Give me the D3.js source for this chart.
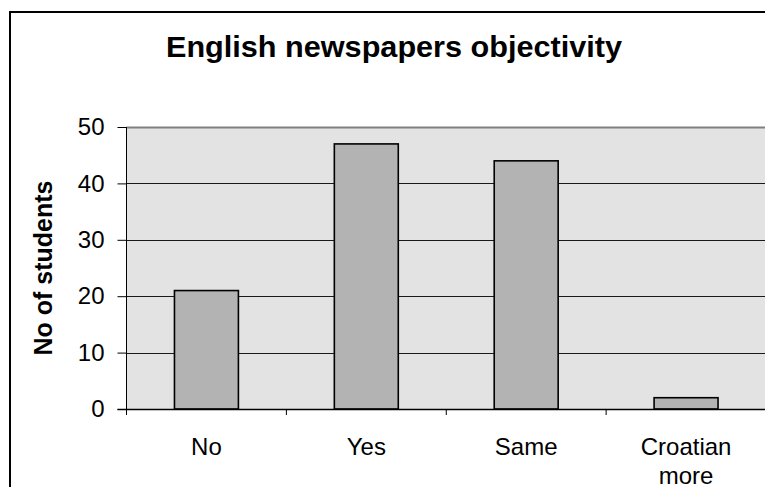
<!DOCTYPE html>
<html>
<head>
<meta charset="utf-8">
<script src="https://cdn.jsdelivr.net/npm/d3@7"></script>
<style>
html,body{margin:0;padding:0;background:#fff;}
svg{display:block;font-family:Arial,"Liberation Sans",sans-serif;}
</style>
</head>
<body>
<svg id="chart" width="765" height="487"></svg>
<script>
const categories = [["No"], ["Yes"], ["Same"], ["Croatian", "more"]];
const categoryKeys = ["No", "Yes", "Same", "Croatian more"];
const values = [21, 47, 44, 2];
const yTicks = [0, 10, 20, 30, 40, 50];
const title = "English newspapers objectivity";
const yLabel = "No of students";

const svg = d3.select("#chart");
const W = 765, H = 487;
const m = {left: 126.5, top: 127, right: 766, bottom: 409};

// outer frame
svg.append("rect").attr("x", 10).attr("y", 12).attr("width", 800).attr("height", 600)
  .attr("fill", "none").attr("stroke", "#000").attr("stroke-width", 2);

const x = d3.scaleBand().domain(categoryKeys).range([m.left, m.right]).paddingInner(0).paddingOuter(0);
const y = d3.scaleLinear().domain([0, 50]).range([m.bottom, m.top]);

// plot area
svg.append("rect").attr("x", m.left).attr("y", m.top).attr("width", m.right - m.left).attr("height", m.bottom - m.top)
  .attr("fill", "#e3e3e3");

// gridlines
svg.append("g").selectAll("line").data(yTicks.filter(d => d > 0)).join("line")
  .attr("x1", m.left).attr("x2", m.right)
  .attr("y1", d => Math.round(y(d)) + 0.5).attr("y2", d => Math.round(y(d)) + 0.5)
  .attr("stroke", d => d === 50 ? "#808080" : "#1a1a1a").attr("stroke-width", d => d === 50 ? 2 : 1);

// bars
const bw = x.bandwidth() * 0.4;
svg.append("g").selectAll("rect").data(values).join("rect")
  .attr("x", (d, i) => x(categoryKeys[i]) + (x.bandwidth() - bw) / 2)
  .attr("y", d => y(d))
  .attr("width", bw)
  .attr("height", d => y(0) - y(d))
  .attr("fill", "#b3b3b3").attr("stroke", "#000").attr("stroke-width", 1.6);

// y axis
const yAxis = d3.axisLeft(y).tickValues(yTicks).tickSize(9).tickPadding(13);
const gy = svg.append("g").attr("transform", `translate(${m.left},0)`).call(yAxis);
gy.select(".domain").attr("d", `M0,${m.top}V${m.bottom + 6}`).attr("stroke", "#000");
gy.selectAll(".tick line").attr("stroke", "#000");
gy.selectAll("text").attr("font-size", 24).attr("fill", "#000")
  .attr("font-family", "Arial,'Liberation Sans',sans-serif");

// x axis
const gx = svg.append("g").attr("transform", `translate(0,${m.bottom})`);
gx.append("line").attr("x1", m.left - 9).attr("x2", m.right).attr("y1", 0.5).attr("y2", 0.5).attr("stroke", "#000").attr("stroke-width", 1.5);
gx.selectAll("line.sep").data(categoryKeys).join("line").attr("class", "sep")
  .attr("x1", d => x(d)).attr("x2", d => x(d)).attr("y1", 0).attr("y2", 6).attr("stroke", "#000");
const lbl = gx.selectAll("text.cat").data(categories).join("text").attr("class", "cat")
  .attr("text-anchor", "middle").attr("font-size", 24).attr("fill", "#000")
  .attr("transform", (d, i) => `translate(${x(categoryKeys[i]) + x.bandwidth() / 2},46)`);
lbl.selectAll("tspan").data(d => d).join("tspan")
  .attr("x", 0).attr("dy", (d, i) => i === 0 ? 0 : 29).text(d => d);

// title
svg.append("text").attr("x", 394).attr("y", 57).attr("text-anchor", "middle")
  .attr("font-size", 30).attr("font-weight", "bold").attr("fill", "#000")
  .attr("textLength", 456).attr("lengthAdjust", "spacingAndGlyphs")
  .text(title);

// y label
svg.append("text").attr("transform", `translate(52,${(m.top + m.bottom) / 2}) rotate(-90)`)
  .attr("text-anchor", "middle").attr("font-size", 25).attr("font-weight", "bold").attr("fill", "#000")
  .text(yLabel);
</script>
</body>
</html>
